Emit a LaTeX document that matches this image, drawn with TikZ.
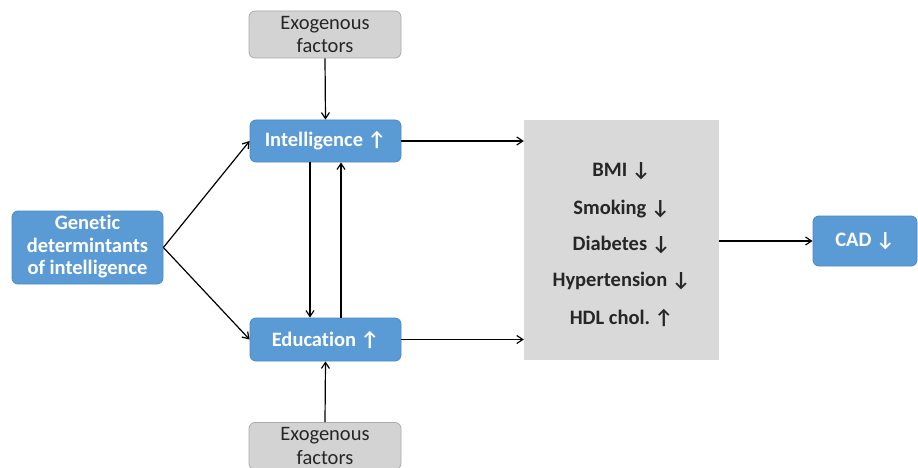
\documentclass[tikz,border=0pt]{standalone}
\usepackage{fontspec}
\setmainfont[Ligatures=NoCommon]{Carlito}
\usetikzlibrary{arrows.meta}
\newcommand{\UP}{\char"2191}
\newcommand{\DN}{\char"2193}
\definecolor{blueA}{HTML}{5B9BD5}
\definecolor{blueB}{HTML}{4A88C4}
\definecolor{greyA}{HTML}{D3D3D3}
\definecolor{greyB}{HTML}{ABABAB}
\definecolor{greyC}{HTML}{D9D9D9}
\tikzset{
  bluebox/.style={rectangle, rounded corners=6pt, fill=blueA, draw=blueB, line width=0.8pt,
    text=white, font=\fontsize{20.5}{23.5}\selectfont\bfseries, align=center, inner sep=0pt},
  exobox/.style={rectangle, rounded corners=6pt, fill=greyA, draw=greyB, line width=0.8pt,
    text=black!85, font=\fontsize{20.5}{23.5}\selectfont, align=center, inner sep=0pt,
    minimum width=152pt, minimum height=47pt},
  conn/.style={-{Straight Barb[length=6pt,width=8pt]}, line width=1.2pt, black},
  risk/.style={font=\fontsize{20.5}{23}\selectfont\bfseries, text=black!85}
}
\begin{document}
\frenchspacing
\begin{tikzpicture}[x=1pt,y=-1pt]
\useasboundingbox (0,0) rectangle (918,468);
\node[exobox] (exo1) at (325,34.5) {Exogenous\\factors};
\node[exobox] (exo2) at (325,446) {Exogenous\\factors};
\node[bluebox, minimum width=151pt, minimum height=42pt] (int) at (325.5,141) {Intelligence \UP};
\node[bluebox, minimum width=151pt, minimum height=43pt] (edu) at (325.5,339.5) {Education \UP};
\node[bluebox, minimum width=151pt, minimum height=73pt] (gen) at (87.5,247.5) {\raisebox{-2pt}{\begin{tabular}{@{}c@{}}Genetic\\[-1pt]determintants\\[-1pt]of intelligence\end{tabular}}};
\node[rectangle, fill=greyC, minimum width=195pt, minimum height=240pt, inner sep=0pt] (risk) at (621.5,240) {};
\node[bluebox, minimum width=104pt, minimum height=50pt] (cad) at (865,241) {CAD \DN};
\node[risk] (bmi) at (621.5,171) {BMI \DN};
\node[risk] (smk) at (621.5,209) {Smoking \DN};
\node[risk] (dia) at (621.5,245) {Diabetes \DN};
\node[risk] (hyp) at (621.5,281) {Hypertension \DN};
\node[risk] (hdl) at (621.5,318) {HDL chol. \UP};
\draw[conn] (exo1.south) -- (int.north);
\draw[conn] (exo2.north) -- (edu.south);
\draw[conn] (gen.east) -- (int.west);
\draw[conn] (gen.east) -- (edu.west);
\draw[conn] (int.east) -- (int.east -| risk.west);
\draw[conn] (edu.east) -- (edu.east -| risk.west);
\draw[conn] ([xshift=-15.5pt]int.south) -- ([xshift=-15.5pt]edu.north);
\draw[conn] ([xshift=15.5pt]edu.north) -- ([xshift=15.5pt]int.south);
\draw[conn] (risk.east |- cad.west) -- (cad.west);
\end{tikzpicture}
\end{document}
